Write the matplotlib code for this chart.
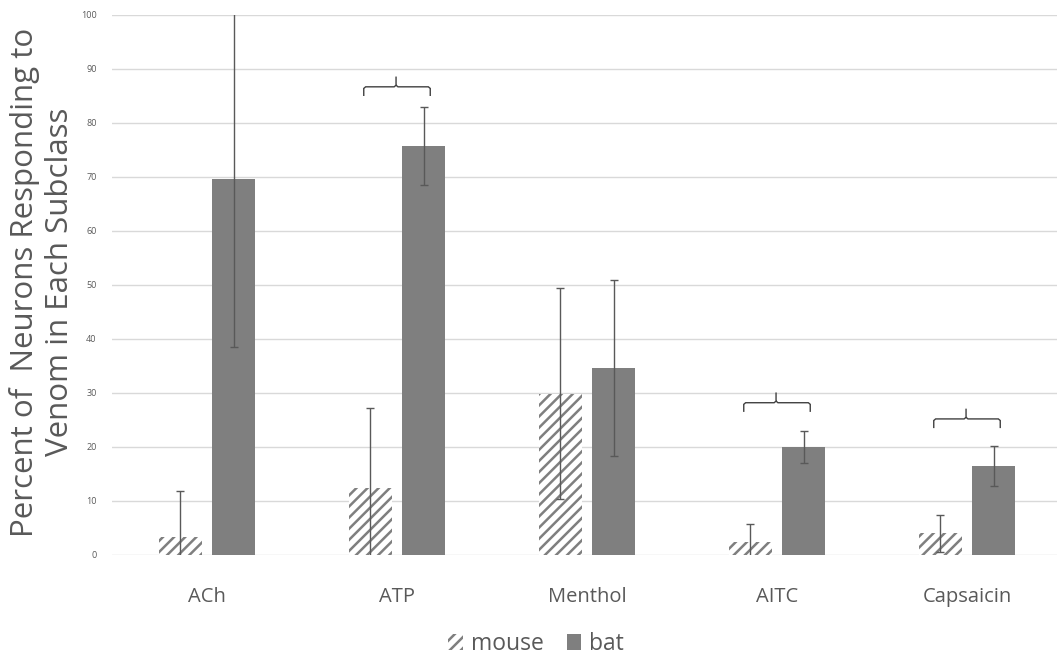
import matplotlib
matplotlib.use("Agg")
import matplotlib.pyplot as plt
import numpy as np
from matplotlib.path import Path
from matplotlib.patches import PathPatch, Patch

categories = ["ACh", "ATP", "Menthol", "AITC", "Capsaicin"]
mouse = [3.3, 12.4, 29.9, 2.4, 4.0]
mouse_err = [8.6, 14.8, 19.6, 3.4, 3.5]
bat = [69.6, 75.7, 34.6, 20.0, 16.4]
bat_err = [31.1, 7.2, 16.3, 3.0, 3.7]
# significance brackets: category index -> bracket baseline height
bracket_cats = [1, 3, 4]
bracket_heights = [86.7, 28.2, 25.2]
yticks = list(range(0, 101, 10))

plt.rcParams['font.family'] = ['Open Sans', 'DejaVu Sans']
txt = '#595959'

fig = plt.figure(figsize=(10.57, 6.58), dpi=100)
L = 112 / 1057
B = (658 - 555) / 658
T = 15 / 658
W = 950 / 1057
ax = fig.add_axes([L, B, W, 1 - B - T])

x = np.arange(len(categories))
off = 0.14
bw = 0.226
plt.rcParams['hatch.linewidth'] = 1.8
plt.rcParams['hatch.color'] = '#7f7f7f'
ax.bar(x - off, mouse, bw, color='white', edgecolor='#7f7f7f', hatch='///', linewidth=0, zorder=2)
ax.bar(x + off, bat, bw, color='#7f7f7f', linewidth=0, zorder=2)
ax.errorbar(x - off, mouse, yerr=mouse_err, fmt='none', ecolor='#595959', elinewidth=1, capsize=3, capthick=1, zorder=3)
ax.errorbar(x + off, bat, yerr=bat_err, fmt='none', ecolor='#595959', elinewidth=1, capsize=3, capthick=1, zorder=3)

# brackets
for ci, h in zip(bracket_cats, bracket_heights):
    xl, xr = ci - 0.175, ci + 0.175
    xm = ci - 0.005
    d = 1.7
    verts = [(xl, h - d), (xl, h - 0.3), (xl + 0.01, h), (xm - 0.01, h), (xm, h + 0.3), (xm, h + 1.9),
             (xm, h + 0.3), (xm + 0.01, h), (xr - 0.01, h), (xr, h - 0.3), (xr, h - d)]
    codes = [Path.MOVETO, Path.LINETO, Path.LINETO, Path.LINETO, Path.LINETO, Path.LINETO,
             Path.MOVETO, Path.LINETO, Path.LINETO, Path.LINETO, Path.LINETO]
    ax.add_patch(PathPatch(Path(verts, codes), facecolor='none', edgecolor='#404040', lw=1.0, zorder=4))

ax.set_xlim(-0.5, len(categories) - 0.5)
ax.set_ylim(0, 100)
ax.set_yticks(yticks)
ax.set_yticklabels([str(t) for t in yticks], fontsize=6.5, color=txt)
ax.set_xticks(x)
ax.set_xticklabels(categories, fontsize=14.5, color=txt)
ax.tick_params(axis='both', length=0)
ax.tick_params(axis='y', pad=11)
ax.tick_params(axis='x', pad=23)
ax.grid(axis='y', color='#d9d9d9', linewidth=1, zorder=0)
ax.set_axisbelow(True)
for s in ax.spines.values():
    s.set_visible(False)

ax.set_ylabel("Percent of  Neurons Responding to\nVenom in Each Subclass", fontsize=22.5, color=txt,
              linespacing=1.2)
ax.yaxis.set_label_coords((75 - 112) / 950, (555 - 282) / 540)

handles = [Patch(facecolor='white', edgecolor='#7f7f7f', hatch='///', linewidth=0),
           Patch(facecolor='#7f7f7f', linewidth=0)]
fig.legend(handles, ['mouse', 'bat'], loc='center', bbox_to_anchor=(536 / 1057, 1 - 644 / 658), ncol=2,
           frameon=False, fontsize=16.5, labelcolor=txt, handlelength=0.65, handleheight=0.65,
           handletextpad=0.35, columnspacing=1.0)

fig.savefig('out.png', dpi=100)
